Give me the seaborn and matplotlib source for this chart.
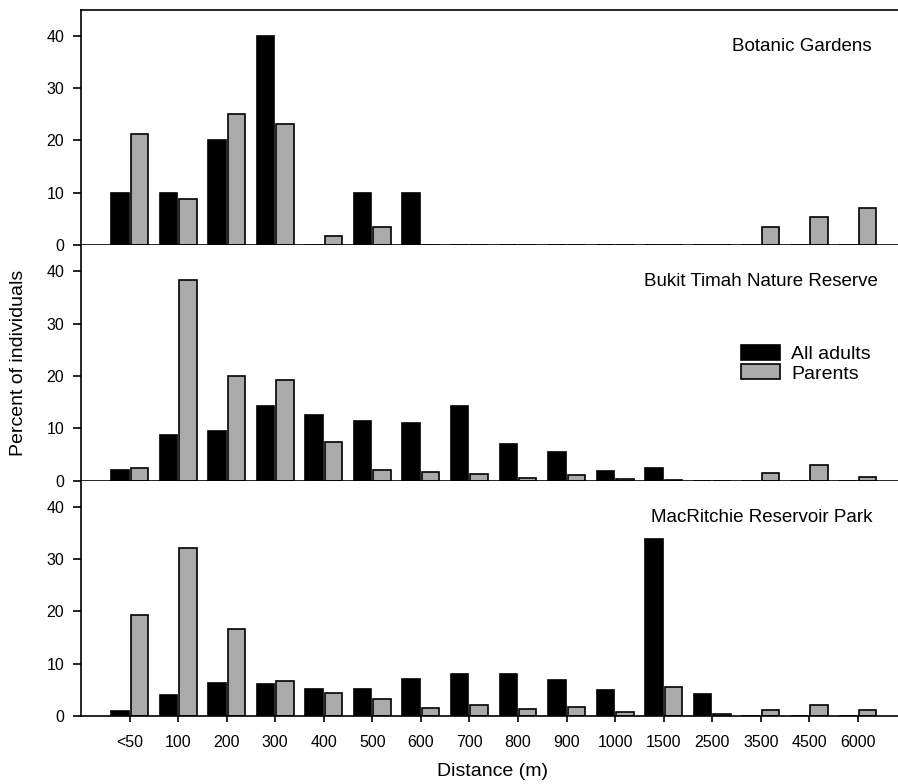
import pandas as pd
import seaborn as sns
import matplotlib.pyplot as plt
from matplotlib.patches import Patch

distances = ['<50', '100', '200', '300', '400', '500', '600', '700', '800',
             '900', '1000', '1500', '2500', '3500', '4500', '6000']

botanic_adults = [10, 10, 20, 40, 0, 10, 10, 0, 0, 0, 0, 0, 0, 0, 0, 0]
botanic_parents = [21.3, 8.8, 25, 23.1, 1.7, 3.5, 0, 0, 0, 0, 0, 0, 0, 3.5, 5.3, 7.1]

bukit_adults = [2.0, 8.7, 9.4, 14.3, 12.6, 11.3, 11.0, 14.3, 6.9, 5.4, 1.8, 2.4, 0, 0, 0, 0]
bukit_parents = [2.4, 38.4, 20.0, 19.2, 7.3, 2.1, 1.7, 1.3, 0.5, 1.1, 0.2, 0.1, 0, 1.5, 3.0, 0.6]

macritchie_adults = [1.0, 4.0, 6.4, 6.1, 5.1, 5.2, 7.0, 8.1, 8.1, 6.9, 5.0, 33.8, 4.2, 0, 0, 0]
macritchie_parents = [19.3, 32.2, 16.6, 6.6, 4.4, 3.2, 1.6, 2.2, 1.4, 1.7, 0.8, 5.5, 0.4, 1.1, 2.2, 1.1]

sites = ['Botanic Gardens', 'Bukit Timah Nature Reserve', 'MacRitchie Reservoir Park']
adults = [botanic_adults, bukit_adults, macritchie_adults]
parents = [botanic_parents, bukit_parents, macritchie_parents]
series = ['All adults', 'Parents']
colors = {'All adults': 'black', 'Parents': '#aaaaaa'}

sns.set_style('ticks')
plt.rcParams['font.family'] = ['Liberation Sans', 'DejaVu Sans']
plt.rcParams.update({
    'axes.linewidth': 1.2,
    'axes.edgecolor': 'black',
    'text.color': 'black',
    'axes.labelcolor': 'black',
    'xtick.color': 'black',
    'ytick.color': 'black',
})

fig = plt.figure(figsize=(8.98, 7.84), dpi=100)
left, width, height = 81 / 898, 825.5 / 898, 235.5 / 784
bottoms = [0.6875, 0.3871, 0.0867]
label_x = [0.958, 0.965, 0.959]

axes = []
for i, site in enumerate(sites):
    ax = fig.add_axes([left, bottoms[i], width, height])
    df = pd.DataFrame({
        'distance': distances * 2,
        'value': adults[i] + parents[i],
        'group': [series[0]] * len(distances) + [series[1]] * len(distances),
    })
    sns.barplot(data=df, x='distance', y='value', hue='group', order=distances,
                hue_order=series, palette=colors, edgecolor='black', linewidth=1.2,
                width=0.8, gap=0.1, ax=ax, legend=False)
    ax.set_xlim(-1, 16)
    ax.set_ylim(0, 45)
    ax.set_yticks([0, 10, 20, 30, 40])
    ax.set_xlabel('')
    ax.set_ylabel('')
    ax.spines['right'].set_visible(False)
    if i > 0:
        ax.spines['top'].set_visible(False)
    ax.tick_params(axis='y', length=6, width=1.2, pad=6, labelsize=11.5, color='black')
    ax.tick_params(axis='x', length=4.5, width=1.2, pad=9, labelsize=11.5, color='black')
    if i < 2:
        ax.tick_params(axis='x', labelbottom=False)
    ax.text(label_x[i], 0.844, site, transform=ax.transAxes, ha='right', va='center',
            fontsize=13.5)
    axes.append(ax)

handles = [Patch(facecolor=colors[s], edgecolor='black', linewidth=1.2, label=s) for s in series]
axes[1].legend(handles=handles, loc='center left', bbox_to_anchor=(0.800, 0.495),
               frameon=False, fontsize=14, handlelength=1.96, handleheight=0.79,
               handletextpad=0.6, labelspacing=0.05, borderpad=0, borderaxespad=0)

fig.text(19 / 898, 0.537, 'Percent of individuals', rotation=90, ha='center', va='center',
         fontsize=14)
fig.text(492.5 / 898, 0.0157, 'Distance (m)', ha='center', va='center', fontsize=14)

fig.savefig('out.png', dpi=100)
